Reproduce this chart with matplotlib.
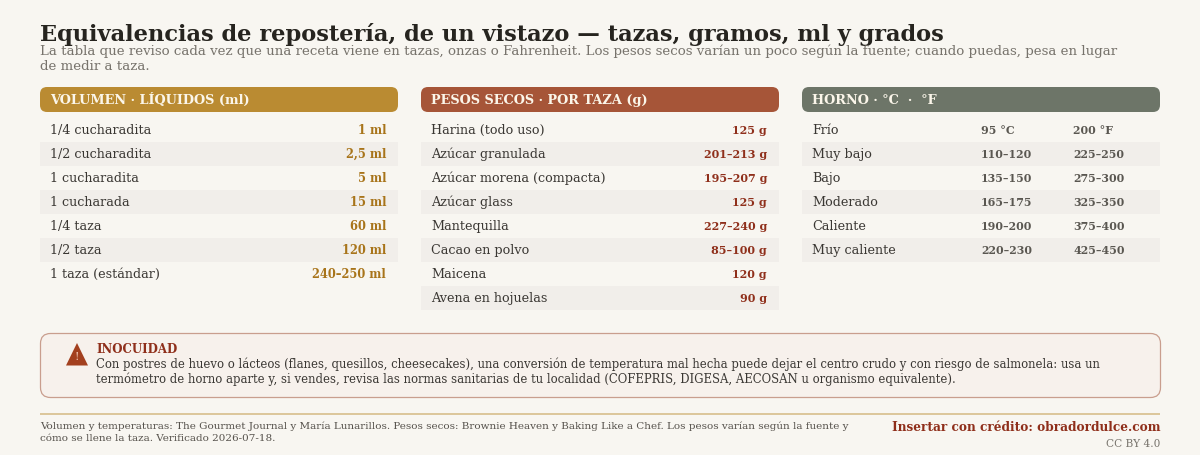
import matplotlib
matplotlib.use("Agg")
import matplotlib.pyplot as plt
from matplotlib.patches import FancyBboxPatch, Rectangle, Polygon

TITLE = "Equivalencias de repostería, de un vistazo — tazas, gramos, ml y grados"
SUB1 = "La tabla que reviso cada vez que una receta viene en tazas, onzas o Fahrenheit. Los pesos secos varían un poco según la fuente; cuando puedas, pesa en lugar"
SUB2 = "de medir a taza."
vol_head = "VOLUMEN · LÍQUIDOS (ml)"
vol_names = ["1/4 cucharadita", "1/2 cucharadita", "1 cucharadita", "1 cucharada", "1/4 taza", "1/2 taza", "1 taza (estándar)"]
vol_vals = ["1 ml", "2,5 ml", "5 ml", "15 ml", "60 ml", "120 ml", "240–250 ml"]
dry_head = "PESOS SECOS · POR TAZA (g)"
dry_names = ["Harina (todo uso)", "Azúcar granulada", "Azúcar morena (compacta)", "Azúcar glass", "Mantequilla", "Cacao en polvo", "Maicena", "Avena en hojuelas"]
dry_vals = ["125 g", "201–213 g", "195–207 g", "125 g", "227–240 g", "85–100 g", "120 g", "90 g"]
oven_head = "HORNO · °C  ·  °F"
oven_names = ["Frío", "Muy bajo", "Bajo", "Moderado", "Caliente", "Muy caliente"]
oven_c = ["95 °C", "110–120", "135–150", "165–175", "190–200", "220–230"]
oven_f = ["200 °F", "225–250", "275–300", "325–350", "375–400", "425–450"]
warn_head = "INOCUIDAD"
warn1 = "Con postres de huevo o lácteos (flanes, quesillos, cheesecakes), una conversión de temperatura mal hecha puede dejar el centro crudo y con riesgo de salmonela: usa un"
warn2 = "termómetro de horno aparte y, si vendes, revisa las normas sanitarias de tu localidad (COFEPRIS, DIGESA, AECOSAN u organismo equivalente)."
foot1 = "Volumen y temperaturas: The Gourmet Journal y María Lunarillos. Pesos secos: Brownie Heaven y Baking Like a Chef. Los pesos varían según la fuente y"
foot2 = "cómo se llene la taza. Verificado 2026-07-18."
credit = "Insertar con crédito: obradordulce.com"
lic = "CC BY 4.0"

BG = "#f8f6f1"; INK = "#2b2926"; STRIPE = "#f1eeea"; GREY = "#77736c"
GOLD = "#ba8b32"; GOLDV = "#a8741a"; RUST = "#a65538"; RUSTV = "#8f2f1b"; SAGE = "#6d7568"

plt.rcParams["font.family"] = ["DejaVu Serif"]
fig = plt.figure(figsize=(12, 4.55), dpi=100, facecolor=BG)
ax = fig.add_axes([0, 0, 1, 1])
ax.set_xlim(0, 1200); ax.set_ylim(455, 0); ax.axis("off")

def T(x, y, s, size, color=INK, weight="normal", ha="left"):
    # y is the middle of the capitals, so rows share one baseline
    return ax.text(x, y + size * 0.507, s, fontsize=size, color=color, fontweight=weight, ha=ha, va="baseline")

def rbox(x0, y0, x1, y1, r, fc, ec="none", lw=0):
    ax.add_patch(FancyBboxPatch((x0 + r, y0 + r), x1 - x0 - 2 * r, y1 - y0 - 2 * r,
                                boxstyle=f"round,pad={r},rounding_size={r}", fc=fc, ec=ec, lw=lw))

T(40, 32.5, TITLE, 16.23, weight="bold", color="#26241f")
T(40, 50, SUB1, 9.66, GREY)
T(40, 65, SUB2, 9.66, GREY)

ROW0, ROWH = 118, 24
def column(x0, x1, head, color, names):
    rbox(x0, 87, x1, 112, 7, color)
    T(x0 + 10, 99, head, 9.25, "#fbf6ea", "bold")
    for i, n in enumerate(names):
        if i % 2:
            ax.add_patch(Rectangle((x0, ROW0 + i * ROWH), x1 - x0, ROWH, fc=STRIPE, ec="none"))
        T(x0 + 10, ROW0 + (i + .5) * ROWH - 1, n, 9.15, "#3a3733")

column(40, 398, vol_head, GOLD, vol_names)
for i, v in enumerate(vol_vals):
    T(386, ROW0 + (i + .5) * ROWH, v, 8.3, GOLDV, "bold", ha="right")
column(421, 779, dry_head, RUST, dry_names)
for i, v in enumerate(dry_vals):
    T(767, ROW0 + (i + .5) * ROWH, v, 8.0, RUSTV, "bold", ha="right")
column(802, 1160, oven_head, SAGE, oven_names)
for i, (c, f) in enumerate(zip(oven_c, oven_f)):
    T(981, ROW0 + (i + .5) * ROWH, c, 7.9, "#5a5751", "bold")
    T(1073, ROW0 + (i + .5) * ROWH, f, 7.9, "#5a5751", "bold")

rbox(40.5, 333.5, 1160.5, 397.5, 10, "#f7f1ec", "#c99e8e", 0.9)
ax.add_patch(Polygon([(66, 365.5), (88, 365.5), (77, 343)], closed=True, fc="#a3401f", ec="none"))
T(77, 356, "!", 8, "#f3c9b6", ha="center")
T(96, 349, warn_head, 8.5, "#8f2f1b", "bold")
T(96, 364, warn1, 8.41, "#3a3733")
T(96, 379, warn2, 8.41, "#3a3733")

ax.add_patch(Rectangle((40, 413), 1120, 2, fc="#dcc79c", ec="none"))
T(40, 425, foot1, 7.47, "#56524c")
T(40, 437, foot2, 7.47, "#56524c")
T(1160, 426.5, credit, 8.75, RUSTV, "bold", ha="right")
T(1160, 443, lic, 7.6, GREY, ha="right")

fig.savefig("out.png", dpi=100, facecolor=BG)
